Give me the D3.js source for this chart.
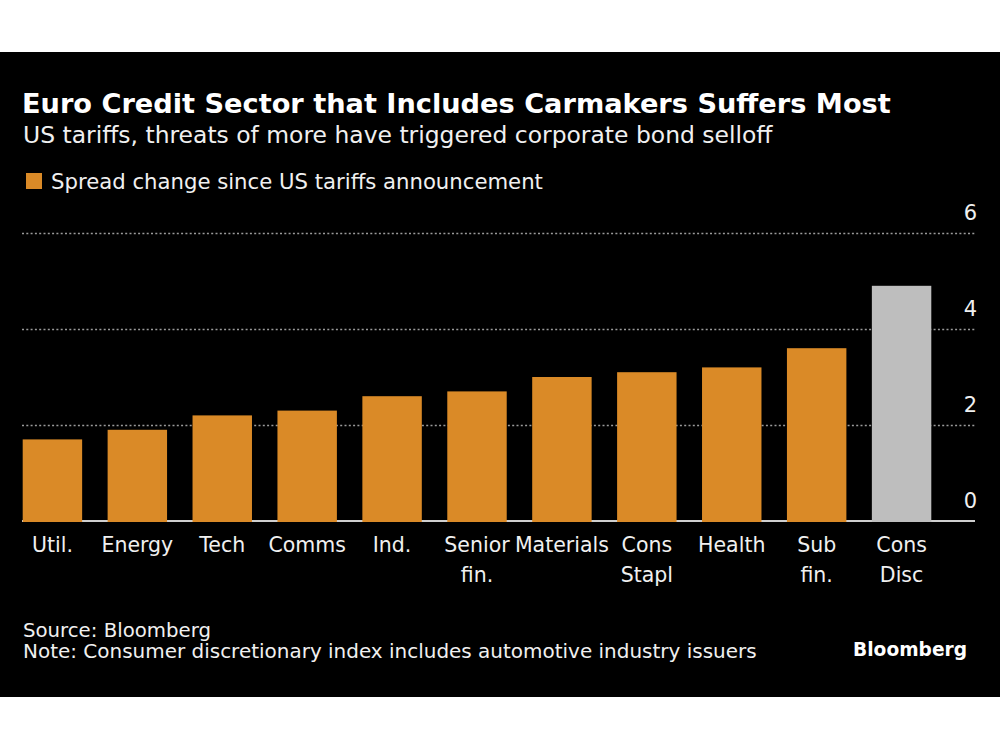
<!DOCTYPE html>
<html>
<head>
<meta charset="utf-8">
<script src="https://cdn.jsdelivr.net/npm/d3@7"></script>
<style>
  html, body { margin: 0; padding: 0; background: #ffffff; }
  svg { display: block; }
  text { font-family: "DejaVu Sans", "Open Sans", sans-serif; }
</style>
</head>
<body>
<svg id="chart" width="1000" height="750"></svg>
<script>
// ---- data ----
const categories = ["Util.", "Energy", "Tech", "Comms", "Ind.", "Senior fin.", "Materials", "Cons Stapl", "Health", "Sub fin.", "Cons Disc"];
const spreadChange = [1.70, 1.90, 2.20, 2.30, 2.60, 2.70, 3.00, 3.10, 3.20, 3.60, 4.90];
const highlighted = ["Cons Disc"];
const yTicks = [0, 2, 4, 6];
const titleText = "Euro Credit Sector that Includes Carmakers Suffers Most";
const subtitleText = "US tariffs, threats of more have triggered corporate bond selloff";
const legendText = "Spread change since US tariffs announcement";
const sourceText = "Source: Bloomberg";
const noteText = "Note: Consumer discretionary index includes automotive industry issuers";
const logoText = "Bloomberg";

// ---- layout ----
const W = 1000, H = 750;
const FONT = '"DejaVu Sans", "Open Sans", sans-serif';
const svg = d3.select("#chart");
const ORANGE = "#DA8A27", GREY = "#BEBEBE", TXT = "#F0F0F0";

svg.append("rect").attr("x", 0).attr("y", 52).attr("width", W).attr("height", 645).attr("fill", "#000");

function fit(sel, target) {
  const base = parseFloat(sel.attr("font-size"));
  const w = sel.node().getComputedTextLength();
  if (w > 0) sel.attr("font-size", (base * target / w).toFixed(2));
  return sel;
}

const title = svg.append("text").attr("x", 22).attr("y", 112.5)
  .attr("font-size", 24).attr("font-weight", 700).attr("fill", "#fff").text(titleText);
fit(title, 869);

const subtitle = svg.append("text").attr("x", 23).attr("y", 143)
  .attr("font-size", 20).attr("fill", TXT).text(subtitleText);
fit(subtitle, 750);

svg.append("rect").attr("x", 26).attr("y", 173).attr("width", 16).attr("height", 16).attr("fill", ORANGE);
const leg = svg.append("text").attr("x", 51).attr("y", 189)
  .attr("font-size", 20).attr("fill", TXT).text(legendText);
fit(leg, 492);

// ---- scales ----
const x = d3.scaleBand().domain(categories).range([22.7, 931.3]).paddingInner(0.3).paddingOuter(0);
const y = d3.scaleLinear().domain([0, 6]).range([521, 233]);
const plotLeft = 22, plotRight = 975;

// gridlines
const grid = svg.append("g");
grid.selectAll("line").data(yTicks.filter(d => d !== 0)).join("line")
  .attr("x1", plotLeft).attr("x2", plotRight)
  .attr("y1", d => y(d) + 0.5).attr("y2", d => y(d) + 0.5)
  .attr("stroke", "#9a9a9a").attr("stroke-width", 1.5).attr("stroke-dasharray", "2,2.3");

// baseline
svg.append("line").attr("x1", plotLeft).attr("x2", plotRight)
  .attr("y1", y(0)).attr("y2", y(0)).attr("stroke", "#cfcfcf").attr("stroke-width", 2);

// bars
svg.append("g").selectAll("rect").data(categories).join("rect")
  .attr("x", d => x(d))
  .attr("width", x.bandwidth())
  .attr("y", (d, i) => y(spreadChange[i]))
  .attr("height", (d, i) => y(0) - y(spreadChange[i]) + 1)
  .attr("fill", d => highlighted.includes(d) ? GREY : ORANGE);

// y axis (right, labels above gridlines)
const yAxis = d3.axisRight(y).tickValues(yTicks).tickFormat(d3.format("d")).tickSize(0).tickPadding(0);
const yg = svg.append("g").attr("transform", `translate(977,0)`).call(yAxis);
yg.select(".domain").remove();
yg.selectAll("text")
  .attr("text-anchor", "end").attr("x", 0).attr("dy", null)
  .attr("y", -14)
  .attr("font-size", 21).attr("fill", TXT)
  .style("font-family", FONT);

// x axis labels
const xAxis = d3.axisBottom(x).tickSize(0).tickPadding(0);
const xg = svg.append("g").attr("transform", `translate(0,${y(0)})`).call(xAxis);
xg.select(".domain").remove();
xg.selectAll(".tick text").each(function(d) {
  const t = d3.select(this);
  const parts = d.split(" ");
  t.text(null).attr("y", 0).attr("dy", null)
    .attr("font-size", 20.5).attr("fill", TXT)
    .style("font-family", FONT);
  parts.forEach((p, k) => {
    t.append("tspan").attr("x", 0).attr("y", 30.7 + k * 30).text(p);
  });
});

// footer
const src = svg.append("text").attr("x", 23).attr("y", 636.7)
  .attr("font-size", 19).attr("fill", TXT).text(sourceText);
fit(src, 188);
const note = svg.append("text").attr("x", 23).attr("y", 657.7)
  .attr("font-size", 19).attr("fill", TXT).text(noteText);
fit(note, 734);
const logo = svg.append("text").attr("x", 967).attr("y", 655.7).attr("text-anchor", "end")
  .attr("font-size", 20).attr("font-weight", 700).attr("fill", "#fff").text(logoText);
fit(logo, 114);
</script>
</body>
</html>
